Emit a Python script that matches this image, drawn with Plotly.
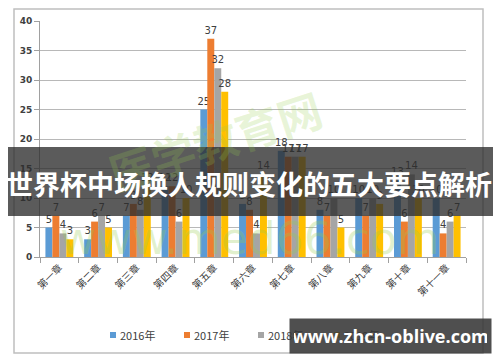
import plotly.graph_objects as go

categories = ["第一章", "第二章", "第三章", "第四章", "第五章", "第六章",
              "第七章", "第八章", "第九章", "第十章", "第十一章"]
series_names = ["2016年", "2017年", "2018年", "2019年"]
v2016 = [5, 3, 7, 12, 25, 9, 18, 8, 10, 13, 10]
v2017 = [7, 6, 9, 12, 37, 8, 17, 7, 7, 6, 4]
v2018 = [4, 7, 8, 6, 32, 4, 17, 10, 10, 14, 6]
v2019 = [3, 5, 12, 10, 28, 14, 17, 5, 9, 10, 7]
colors = ["#5B9BD5", "#ED7D31", "#A5A5A5", "#FFC000"]
y_ticks = [0, 5, 10, 15, 20, 25, 30, 35, 40]
title_text = "世界杯中场换人规则变化的五大要点解析"
site_text = "www.zhcn-oblive.com"

W, H = 500, 362
L, R, T, B = 40, 466, 21, 257

def px(x):
    return (x - L) / (R - L)

def py(y):
    return (B - y) / (B - T)

fig = go.Figure()
for name, vals, col in zip(series_names, [v2016, v2017, v2018, v2019], colors):
    fig.add_trace(go.Bar(
        x=categories, y=vals, name=name, marker=dict(color=col, line=dict(width=0)),
        text=[str(v) for v in vals], textposition="outside", constraintext="none",
        textfont=dict(family="DejaVu Sans", size=10, color="#404040"),
        cliponaxis=False, showlegend=False, hoverinfo="skip",
    ))

fig.update_layout(
    width=W, height=H,
    margin=dict(l=L, r=W - R, t=T, b=H - B, autoexpand=False),
    paper_bgcolor="white", plot_bgcolor="white",
    barmode="group", bargap=0.28, bargroupgap=0,
    showlegend=False,
    xaxis=dict(type="category", tickson="boundaries", ticks="outside", ticklen=5,
               tickcolor="#A0A0A0", showline=True, linecolor="#A0A0A0", linewidth=1,
               tickangle=-45, automargin=False,
               tickfont=dict(family="Noto Sans CJK SC", size=10, color="#404040"),
               showgrid=False),
    yaxis=dict(range=[0, 40], tickvals=y_ticks, ticks="outside", ticklen=5,
               tickcolor="#A0A0A0", showline=True, linecolor="#A0A0A0", linewidth=1,
               gridcolor="#B8B8B8", gridwidth=1, zeroline=False, automargin=False,
               tickfont=dict(family="DejaVu Sans", size=9, color="#404040", weight="bold")),
)

# outer chart border
fig.add_shape(type="rect", xref="paper", yref="paper",
              x0=px(14), x1=px(483), y0=py(353), y1=py(9),
              line=dict(color="#BFBFBF", width=1.5), fillcolor="rgba(0,0,0,0)", layer="below")

# faint background watermark
fig.add_annotation(xref="paper", yref="paper", x=px(250), y=py(238), xanchor="center", yanchor="middle",
                   text="www.med66.com", showarrow=False,
                   font=dict(family="DejaVu Sans", size=44, color="rgba(150,205,80,0.28)"))
fig.add_annotation(xref="paper", yref="paper", x=px(215), y=py(140), xanchor="center", yanchor="middle",
                   text="医学教育网", showarrow=False, textangle=-18,
                   font=dict(family="Noto Sans CJK SC", size=44, color="rgba(150,205,80,0.22)", weight="bold"))

# custom legend (drawn so that the site box annotation can sit on top of it)
legend_sq_x = [110, 184, 258, 334]
legend_y = 335
for i, (name, col) in enumerate(zip(series_names, colors)):
    x0 = legend_sq_x[i]
    fig.add_shape(type="rect", xref="paper", yref="paper",
                  x0=px(x0), x1=px(x0 + 6), y0=py(legend_y + 3), y1=py(legend_y - 3),
                  line=dict(width=0), fillcolor=col, layer="above")
    fig.add_annotation(xref="paper", yref="paper", x=px(x0 + 8), y=py(legend_y),
                       xanchor="left", yanchor="middle", text=name, showarrow=False,
                       font=dict(family="Noto Sans CJK SC", size=11, color="#404040"))

# title banner
fig.add_shape(type="rect", xref="paper", yref="paper",
              x0=px(8), x1=px(493), y0=py(216), y1=py(147),
              line=dict(width=0), fillcolor="rgba(45,45,45,0.78)", layer="above")
fig.add_annotation(xref="paper", yref="paper", x=px(249), y=py(183), xanchor="center", yanchor="middle",
                   text=title_text, showarrow=False,
                   font=dict(family="Noto Sans CJK SC", size=27, color="white", weight="bold"))

# site box (annotation with background so it covers the legend)
fig.add_annotation(xref="paper", yref="paper", x=px(390.5), y=py(336), xanchor="center", yanchor="middle",
                   text=site_text, showarrow=False, width=193, height=26, borderpad=4,
                   bgcolor="rgba(55,55,55,0.88)",
                   font=dict(family="Open Sans", size=18, color="white", weight="bold"))

fig.write_html("out.html", config={"displayModeBar": False},
               post_script="document.body.style.margin='0';")
